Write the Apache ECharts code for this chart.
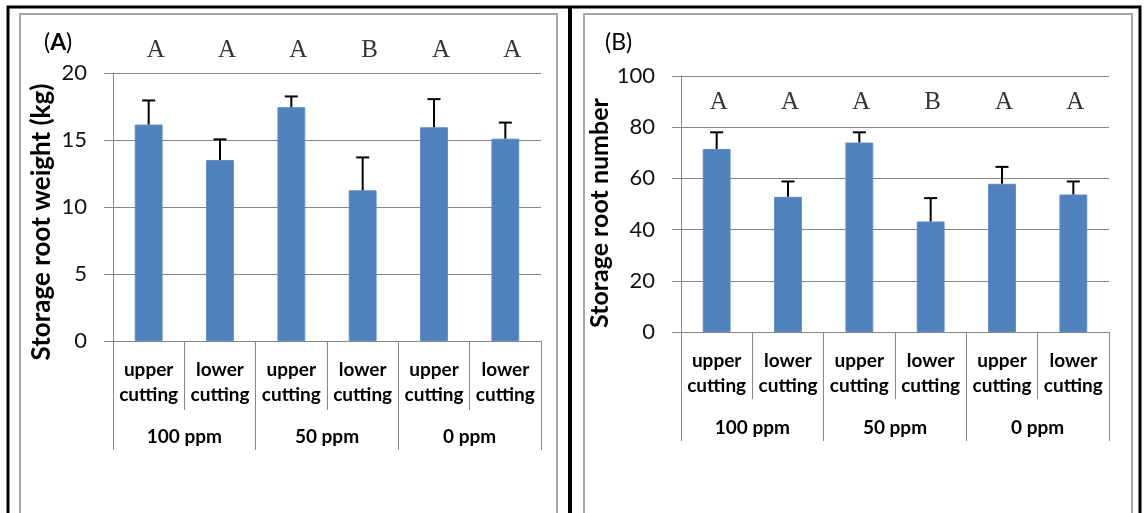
<!DOCTYPE html>
<html>
<head>
<meta charset="utf-8">
<script src="https://cdn.jsdelivr.net/npm/echarts@6/dist/echarts.min.js"></script>
<style>
html,body{margin:0;padding:0;background:#fff;}
#chart{width:1147px;height:513px;}
</style>
</head>
<body>
<div id="chart"></div>
<script>
// ---- data ----
const categories = ['upper\ncutting', 'lower\ncutting', 'upper\ncutting', 'lower\ncutting', 'upper\ncutting', 'lower\ncutting'];
const groups = ['100 ppm', '50 ppm', '0 ppm'];
const weightMean = [16.15, 13.5, 17.45, 11.25, 15.95, 15.1];
const weightErr = [1.8, 1.55, 0.8, 2.45, 2.1, 1.2];
const numberMean = [71.5, 52.8, 74.0, 43.2, 57.9, 53.7];
const numberErr = [6.5, 6.0, 4.0, 9.1, 6.6, 5.1];
const letters = ['A', 'A', 'A', 'B', 'A', 'A'];
const weightTicks = [0, 5, 10, 15, 20];
const numberTicks = [0, 20, 40, 60, 80, 100];

const FONT = 'Lato';
const GRAY = '#868686';
const BAR = '#4F81BD';

const chart = echarts.init(document.getElementById('chart'), null, {renderer: 'canvas'});

function errSeries(idx, mean, err) {
  return {
    type: 'custom', xAxisIndex: idx * 2, yAxisIndex: idx, z: 5,
    data: mean.map((m, i) => [i, m, m + err[i]]),
    renderItem: function (params, api) {
      const p0 = api.coord([api.value(0), api.value(1)]);
      const p1 = api.coord([api.value(0), api.value(2)]);
      const hw = 6.5;
      return {
        type: 'group',
        children: [
          {type: 'line', shape: {x1: p0[0], y1: p0[1], x2: p1[0], y2: p1[1]}, style: {stroke: '#000', lineWidth: 2}},
          {type: 'line', shape: {x1: p1[0] - hw, y1: p1[1], x2: p1[0] + hw, y2: p1[1]}, style: {stroke: '#000', lineWidth: 2}}
        ]
      };
    }
  };
}

function letterSeries(idx, level, dx) {
  return {
    type: 'scatter', xAxisIndex: idx * 2, yAxisIndex: idx, clip: false,
    symbolSize: 0, silent: true,
    data: letters.map((l, i) => [i, level]),
    label: {
      show: true, position: 'inside', offset: [dx, 0],
      formatter: p => letters[p.dataIndex],
      fontFamily: 'Liberation Serif', fontSize: 25, color: '#000'
    }
  };
}

function catAxes(gridIndex, innerLen, groupLen, labelMargin, groupMargin) {
  return [
    {
      type: 'category', gridIndex: gridIndex, data: categories, position: 'bottom',
      axisLine: {show: true, lineStyle: {color: GRAY, width: 1}},
      axisTick: {show: true, interval: 0, length: innerLen, lineStyle: {color: GRAY}},
      axisLabel: {interval: 0, margin: labelMargin, fontFamily: FONT, fontSize: 19, fontWeight: 'bold', lineHeight: 25, color: '#000'}
    },
    {
      type: 'category', gridIndex: gridIndex, data: groups, position: 'bottom',
      axisLine: {show: false},
      axisTick: {show: true, interval: 0, length: groupLen, lineStyle: {color: GRAY}},
      axisLabel: {interval: 0, margin: groupMargin, fontFamily: FONT, fontSize: 19, fontWeight: 'bold', color: '#000'}
    }
  ];
}

function valAxis(gridIndex, ticks, name, gap, size, shift) {
  return {
    type: 'value', gridIndex: gridIndex,
    min: ticks[0], max: ticks[ticks.length - 1], interval: ticks[1] - ticks[0],
    name: name, nameLocation: 'middle', nameGap: gap, nameRotate: 90,
    nameTextStyle: {fontFamily: FONT, fontSize: size, fontWeight: 'bold', color: '#000', padding: [0, shift, 0, 0]},
    axisLine: {show: true, lineStyle: {color: GRAY}},
    axisTick: {show: true, length: 9, lineStyle: {color: GRAY}},
    splitLine: {show: true, lineStyle: {color: GRAY, width: 1}},
    axisLabel: {fontFamily: FONT, fontSize: 22, color: '#111', margin: 26}
  };
}

const option = {
  animation: false,
  backgroundColor: '#fff',
  title: [
    {left: 39, top: 26, text: '({b|A})', textStyle: {fontFamily: FONT, fontSize: 23, fontWeight: 'normal', color: '#000', rich: {b: {fontFamily: FONT, fontSize: 23, fontWeight: 'bold', color: '#000'}}}},
    {left: 600, top: 26, text: '(B)', textStyle: {fontFamily: FONT, fontSize: 23, fontWeight: 'normal', color: '#000'}}
  ],
  grid: [
    {left: 113, right: 1147 - 541, top: 73, bottom: 513 - 341},
    {left: 681, right: 1147 - 1109, top: 76, bottom: 513 - 332}
  ],
  xAxis: catAxes(0, 69, 109, 16, 86).concat(catAxes(1, 67, 109, 16, 86)),
  yAxis: [
    valAxis(0, weightTicks, 'Storage root weight (kg)', 58, 26, 30),
    valAxis(1, numberTicks, 'Storage root number', 60, 25, 18)
  ],
  series: [
    {type: 'bar', xAxisIndex: 0, yAxisIndex: 0, data: weightMean, barCategoryGap: '61%',
      itemStyle: {color: BAR, borderColor: '#5B8BC6', borderWidth: 1}},
    errSeries(0, weightMean, weightErr),
    letterSeries(0, 21.7, 7),
    {type: 'bar', xAxisIndex: 2, yAxisIndex: 1, data: numberMean, barCategoryGap: '61%',
      itemStyle: {color: BAR, borderColor: '#5B8BC6', borderWidth: 1}},
    errSeries(1, numberMean, numberErr),
    letterSeries(1, 89.5, 2)
  ],
  graphic: [
    {type: 'rect', z: -10, shape: {x: 8, y: 7, width: 1132, height: 530}, style: {fill: 'none', stroke: '#000', lineWidth: 3}},
    {type: 'line', z: -10, shape: {x1: 570, y1: 7, x2: 570, y2: 520}, style: {stroke: '#000', lineWidth: 4}},
    {type: 'rect', z: -10, shape: {x: 20, y: 14, width: 537, height: 530}, style: {fill: 'none', stroke: '#A6A6A6', lineWidth: 2}},
    {type: 'rect', z: -10, shape: {x: 584, y: 14, width: 548, height: 530}, style: {fill: 'none', stroke: '#A6A6A6', lineWidth: 2}}
  ]
};
chart.setOption(option);
</script>
</body>
</html>
